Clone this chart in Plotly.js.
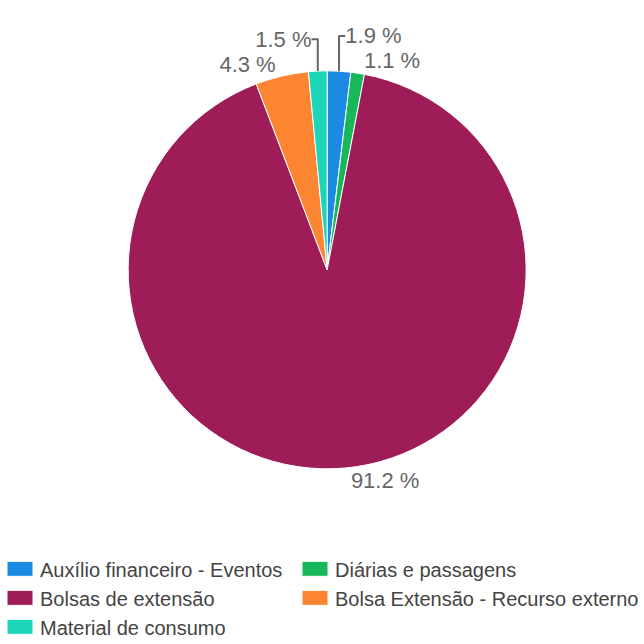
<!DOCTYPE html>
<html><head><meta charset="utf-8">
<script src="https://cdn.plot.ly/plotly-3.0.1.min.js"></script>
<style>html,body{margin:0;padding:0;background:#fff;}#chart{width:644px;height:644px;}</style>
</head><body><div id="chart"></div>
<script>
var categories = ["Auxílio financeiro - Eventos", "Diárias e passagens", "Bolsas de extensão", "Bolsa Extensão - Recurso externo", "Material de consumo"];
var percentages = [1.9, 1.1, 91.2, 4.3, 1.5];
var sliceColors = ["#1a8ae2", "#17b85a", "#9e1c58", "#fb8530", "#1bd6b8"];

var trace = {
  type: "pie",
  labels: categories,
  values: percentages,
  sort: false,
  direction: "clockwise",
  rotation: 0,
  marker: {colors: sliceColors, line: {color: "#ffffff", width: 1}},
  textposition: "outside",
  texttemplate: "%{value:.1f} %",
  outsidetextfont: {family: "Liberation Sans, Arial, sans-serif", size: 22, color: "#666666"},
  hoverinfo: "label+percent",
  domain: {x: [0.199, 0.817], y: [0.272, 0.890]},
  automargin: false
};

var layout = {
  width: 644, height: 644,
  margin: {l: 0, r: 0, t: 0, b: 0, autoexpand: false},
  paper_bgcolor: "#ffffff",
  showlegend: true,
  legend: {
    orientation: "h", xref: "container", yref: "container",
    x: 0.0, y: 0.147, xanchor: "left", yanchor: "top",
    font: {family: "Liberation Sans, Arial, sans-serif", size: 20, color: "#444444"},
    itemwidth: 30, tracegroupgap: 0, entrywidth: 250, entrywidthmode: "pixels"
  },
  font: {family: "Liberation Sans, Arial, sans-serif"}
};

Plotly.newPlot("chart", [trace], layout, {displayModeBar: false, staticPlot: true}).then(function () {
  document.querySelectorAll("#chart .legend .scrollbox").forEach(function (s) {
    s.removeAttribute("clip-path");
  });
  document.querySelectorAll("#chart .legend .legendpoints path").forEach(function (p) {
    p.setAttribute("d", "M13,7.5H-13V-7.5H13Z");
  });
});
</script></body></html>
